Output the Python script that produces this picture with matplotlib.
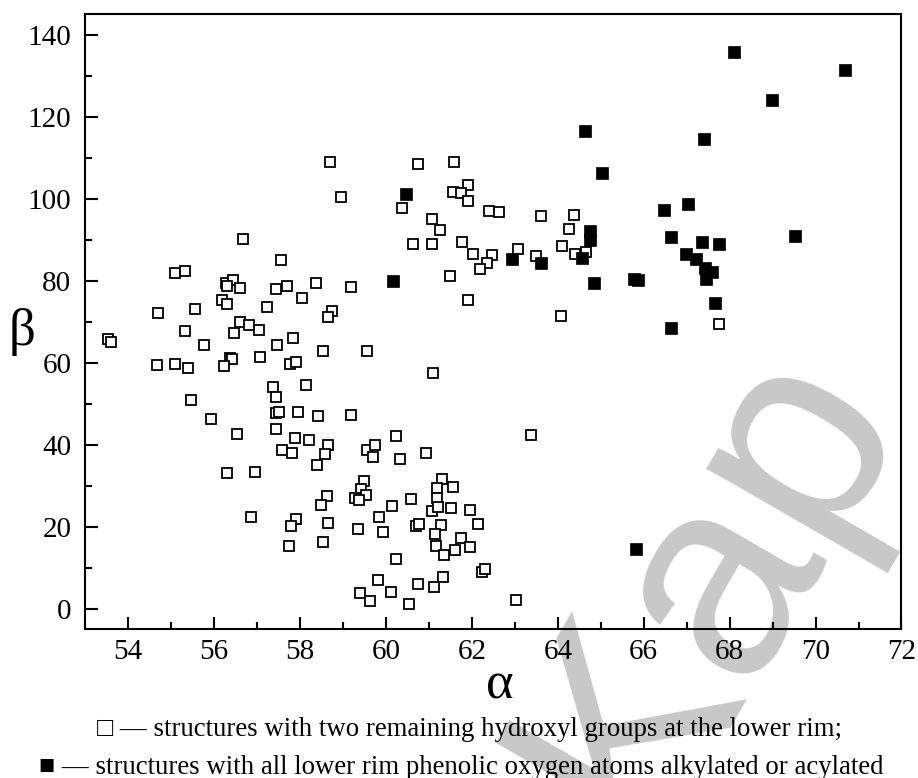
import matplotlib
matplotlib.use('Agg')
import matplotlib.pyplot as plt
from matplotlib.ticker import MultipleLocator

plt.rcParams['font.family'] = ['Liberation Serif', 'DejaVu Sans']

# open squares: two hydroxyl groups left at the lower rim
alpha_oh = [53.54, 53.60, 54.70, 55.09, 55.32, 56.27, 56.45, 56.30, 56.61, 57.43,
            57.69, 58.38, 59.18, 56.18, 56.29, 55.56, 57.24, 58.05, 58.75, 58.64,
            55.32, 56.61, 56.80, 57.04, 56.47, 55.76, 57.47, 57.83, 58.53, 59.56,
            58.69, 58.95, 56.66, 57.55, 54.67, 55.09, 55.40, 56.37, 56.42, 56.23,
            57.07, 57.76, 57.91, 57.37, 57.44, 58.14, 55.47, 55.92, 57.45, 57.50,
            57.96, 58.42, 59.18, 56.53, 57.43, 57.88, 58.20, 58.65, 57.57, 57.82,
            58.58, 58.39, 59.56, 59.74, 59.70, 56.31, 56.95, 58.63, 61.09, 60.24,
            60.33, 60.92, 63.38, 61.31, 61.18, 61.55, 61.19, 61.06, 61.22, 61.51,
            61.95, 61.29, 62.14, 61.13, 61.17, 61.35, 61.74, 61.61, 61.95, 59.49,
            59.43, 59.54, 59.27, 59.38, 58.48, 58.65, 57.90, 57.78, 57.74, 58.53,
            56.86, 60.13, 60.59, 59.83, 59.34, 59.92, 60.70, 60.78, 60.23, 59.81,
            59.40, 59.62, 60.11, 60.53, 60.74, 61.12, 61.33, 62.24, 62.30, 63.02,
            60.75, 61.58, 60.37, 61.92, 61.57, 61.74, 61.92, 62.39, 62.64, 63.60,
            64.37, 64.26, 61.07, 61.26, 60.63, 61.08, 61.77, 62.03, 62.47, 62.36,
            62.19, 63.07, 63.50, 64.09, 64.41, 64.66, 61.50, 61.92, 64.08, 67.76]
beta_oh = [65.8, 65.0, 72.2, 81.8, 82.3, 79.4, 80.2, 78.7, 78.2, 77.9,
           78.8, 79.4, 78.5, 75.3, 74.3, 73.1, 73.6, 75.8, 72.7, 71.2,
           67.8, 69.9, 69.1, 68.0, 67.2, 64.4, 64.3, 66.0, 62.9, 62.9,
           109.0, 100.5, 90.1, 85.1, 59.5, 59.8, 58.8, 61.2, 61.0, 59.1,
           61.3, 59.7, 60.2, 54.0, 51.6, 54.6, 50.9, 46.3, 47.7, 47.9,
           48.1, 46.9, 47.3, 42.5, 43.8, 41.7, 41.1, 40.0, 38.7, 38.1,
           37.8, 35.0, 38.8, 39.9, 36.9, 33.0, 33.4, 27.6, 57.6, 42.2,
           36.6, 38.0, 42.3, 31.7, 29.4, 29.7, 27.0, 23.8, 24.7, 24.5,
           24.1, 20.5, 20.6, 18.3, 15.3, 13.2, 17.2, 14.4, 15.0, 31.1,
           29.3, 27.7, 27.0, 26.6, 25.2, 20.8, 22.0, 20.1, 15.4, 16.2,
           22.3, 25.1, 26.8, 22.3, 19.5, 18.8, 20.3, 20.7, 12.2, 7.0,
           3.9, 1.9, 4.2, 1.1, 6.0, 5.4, 7.7, 8.9, 9.6, 2.1,
           108.5, 109.0, 97.7, 103.4, 101.5, 101.4, 99.5, 96.9, 96.8, 95.7,
           96.0, 92.7, 95.0, 92.3, 89.0, 88.9, 89.3, 86.5, 86.2, 84.4,
           82.8, 87.7, 85.9, 88.4, 86.6, 87.1, 81.2, 75.4, 71.4, 69.4]

# filled squares: all lower rim phenolic oxygens alkylated or acylated
alpha_sub = [60.17, 60.47, 62.94, 63.60, 64.57, 64.64, 64.76, 64.76, 64.85, 65.03,
             65.78, 65.86, 65.83, 66.48, 66.64, 66.64, 66.99, 67.03, 67.21, 67.35,
             67.40, 67.42, 67.45, 67.59, 67.67, 67.75, 68.10, 68.99, 69.52, 70.69]
beta_sub = [80.0, 101.1, 85.2, 84.4, 85.4, 116.4, 92.0, 90.0, 79.5, 106.3,
            80.5, 80.1, 14.7, 97.2, 90.6, 68.5, 86.6, 98.6, 85.2, 89.3,
            114.5, 83.2, 80.4, 82.1, 74.6, 89.0, 135.8, 124.1, 91.0, 131.3]

caption = ['\u25a1 \u2014 structures with two remaining hydroxyl groups at the lower rim;',
           '\u25a0 \u2014 structures with all lower rim phenolic oxygen atoms alkylated or acylated']

fig = plt.figure(figsize=(9.18, 7.78), dpi=100)
ax = fig.add_axes([0.0929, 0.1911, 0.8891, 0.7909])
ax.patch.set_facecolor('none')

ax.plot(alpha_oh, beta_oh, 's', ls='none', ms=7.6, mfc='white', mec='black', mew=1.3)
ax.plot(alpha_sub, beta_sub, 's', ls='none', ms=8.4, mfc='black', mec='black', mew=0.5)

ax.set_xlim(53, 72)
ax.set_ylim(-5, 145)
ax.xaxis.set_major_locator(MultipleLocator(2))
ax.xaxis.set_minor_locator(MultipleLocator(1))
ax.yaxis.set_major_locator(MultipleLocator(20))
ax.yaxis.set_minor_locator(MultipleLocator(10))
ax.tick_params(which='both', direction='in', top=False, right=False, width=1.5, labelsize=21)
ax.tick_params(which='major', length=9)
ax.tick_params(which='minor', length=5)
ax.tick_params(axis='x', pad=7)
ax.tick_params(axis='y', pad=10)
for s in ax.spines.values():
    s.set_linewidth(1.5)

ax.set_xlabel('\u03b1', fontsize=38, va='center', ha='center')
ax.xaxis.set_label_coords(0.508, -0.092)
ax.set_ylabel('\u03b2', fontsize=38, rotation=0, va='center', ha='center')
ax.yaxis.set_label_coords(-0.078, 0.483)

fig.text(0.511, 1 - 730 / 778, caption[0], ha='center', va='center', fontsize=19.3)
fig.text(0.502, 1 - 767 / 778, caption[1], ha='center', va='center', fontsize=19.3)

# grey watermark behind everything
fig.text(0.70, -0.08, 'Kap', fontsize=205, color='#c8c8c8', rotation=60,
         rotation_mode='anchor', ha='left', va='baseline',
         family='Liberation Sans', zorder=-1)

fig.savefig('out.png', dpi=100)
